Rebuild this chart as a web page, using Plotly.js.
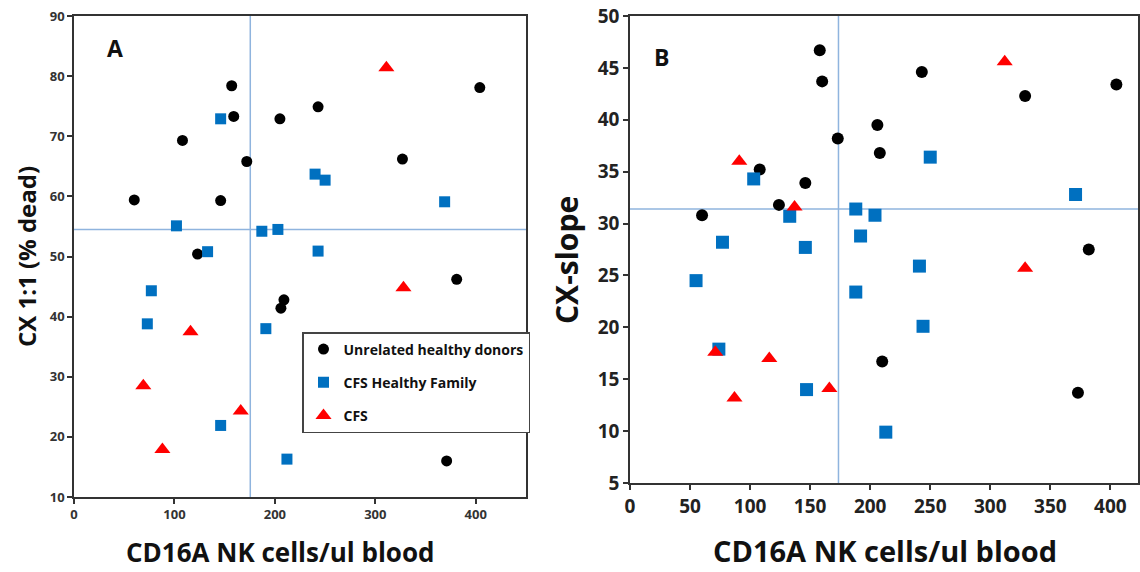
<!DOCTYPE html>
<html>
<head>
<meta charset="utf-8">
<script src="https://cdn.plot.ly/plotly-3.0.1.min.js"></script>
<style>html,body{margin:0;padding:0;background:#fff;}#chart{width:1140px;height:572px;}</style>
</head>
<body>
<div id="chart"></div>
<script>
// ---------- Data ----------
const seriesNames = ["Unrelated healthy donors", "CFS Healthy Family", "CFS"];
const xTitle = "CD16A NK cells/ul blood";
const yTitleA = "CX 1:1 (% dead)";
const yTitleB = "CX-slope";

// Panel A: CX 1:1 (% dead) vs CD16A NK cells/ul blood
const A_donors_x = [157, 159, 205, 108, 172, 60, 146, 123, 404, 243, 327, 209, 206, 381, 371];
const A_donors_y = [78.4, 73.3, 72.9, 69.3, 65.8, 59.4, 59.3, 50.4, 78.1, 74.9, 66.2, 42.8, 41.4, 46.2, 16.0];
const A_family_x = [146, 102, 187, 203, 133, 240, 250, 369, 243, 77, 73, 191, 146, 212];
const A_family_y = [72.9, 55.1, 54.2, 54.5, 50.8, 63.7, 62.7, 59.1, 50.9, 44.3, 38.8, 38.0, 21.9, 16.3];
const A_cfs_x = [311, 328, 116, 69, 166, 88];
const A_cfs_y = [81.4, 44.8, 37.5, 28.5, 24.3, 17.9];
const A_refX = 175.5;
const A_refY = 54.5;

// Panel B: CX-slope vs CD16A NK cells/ul blood
const B_donors_x = [158, 160, 173, 108, 146, 124, 60, 243, 405, 329, 206, 208, 382, 210, 373];
const B_donors_y = [46.7, 43.7, 38.2, 35.2, 33.9, 31.8, 30.8, 44.6, 43.4, 42.3, 39.5, 36.8, 27.5, 16.7, 13.7];
const B_family_x = [103, 133, 77, 146, 188, 192, 55, 250, 371, 204, 241, 188, 74, 147, 244, 213];
const B_family_y = [34.3, 30.7, 28.2, 27.7, 31.4, 28.8, 24.5, 36.4, 32.8, 30.8, 25.9, 23.4, 17.9, 14.0, 20.1, 9.9];
const B_cfs_x = [312, 91, 137, 329, 71, 116, 87, 166];
const B_cfs_y = [45.6, 36.0, 31.6, 25.7, 17.6, 17.0, 13.2, 14.1];
const B_refX = 173.6;
const B_refY = 31.4;

// ---------- Styles ----------
const FONT = '"Open Sans", Lato, sans-serif';
const cBlack = '#000000', cBlue = '#0070C0', cRed = '#FF0000', cRef = '#8FB4DE';

function mk(x, y, name, sym, color, size, xa, ya, showlegend) {
  return {
    type: 'scatter', mode: 'markers', x: x, y: y, name: name,
    xaxis: xa, yaxis: ya, showlegend: showlegend, legendgroup: name,
    marker: {symbol: sym, color: color, size: size, line: {width: 0}},
    hoverinfo: 'x+y+name'
  };
}

const data = [
  mk(A_donors_x, A_donors_y, seriesNames[0], 'circle', cBlack, 11, 'x', 'y', true),
  mk(A_family_x, A_family_y, seriesNames[1], 'square', cBlue, 11, 'x', 'y', true),
  mk(A_cfs_x, A_cfs_y, seriesNames[2], 'triangle-up', cRed, 14, 'x', 'y', true),
  mk(B_donors_x, B_donors_y, seriesNames[0], 'circle', cBlack, 12, 'x2', 'y2', false),
  mk(B_family_x, B_family_y, seriesNames[1], 'square', cBlue, 13, 'x2', 'y2', false),
  mk(B_cfs_x, B_cfs_y, seriesNames[2], 'triangle-up', cRed, 14, 'x2', 'y2', false)
];

const axBase = {
  showgrid: false, zeroline: false, showline: true, mirror: true,
  linecolor: '#333', linewidth: 1.5, ticks: 'outside', ticklen: 5,
  tickcolor: '#333', tickwidth: 1.5
};

const layout = {
  width: 1140, height: 572,
  margin: {l: 0, r: 0, t: 16, b: 75},
  paper_bgcolor: '#fff', plot_bgcolor: '#fff',
  font: {family: FONT, color: '#000'},
  showlegend: true,
  legend: {
    x: 302/1140, y: 165/481, xanchor: 'left', yanchor: 'top',
    bgcolor: '#fff', bordercolor: '#444', borderwidth: 1.5,
    font: {family: FONT, size: 14, weight: 'bold', color: '#111'},
    tracegroupgap: 12, itemclick: false, itemwidth: 30
  },
  xaxis: Object.assign({}, axBase, {
    domain: [74/1140, 526/1140], range: [0, 450], dtick: 100, anchor: 'y',
    tickfont: {family: FONT, size: 13, weight: 'bold', color: '#333'}
  }),
  yaxis: Object.assign({}, axBase, {
    domain: [0, 1], range: [10, 90], dtick: 10, anchor: 'x',
    tickfont: {family: FONT, size: 13, weight: 'bold', color: '#333'},
    title: {text: yTitleA, standoff: 6,
            font: {family: FONT, size: 24, weight: 'bold', color: '#111'}}
  }),
  xaxis2: Object.assign({}, axBase, {
    domain: [630/1140, 1138/1140], range: [0, 423], dtick: 50, anchor: 'y2',
    tickfont: {family: FONT, size: 19, weight: 'bold', color: '#222'}
  }),
  yaxis2: Object.assign({}, axBase, {
    domain: [14/481, 1], range: [5, 50], dtick: 5, anchor: 'x2',
    tickfont: {family: FONT, size: 19, weight: 'bold', color: '#222'}
  }),
  shapes: [
    {type: 'line', xref: 'x', yref: 'y domain', x0: A_refX, x1: A_refX, y0: 0, y1: 1, line: {color: cRef, width: 1.5}, layer: 'below'},
    {type: 'line', xref: 'x domain', yref: 'y', x0: 0, x1: 1, y0: A_refY, y1: A_refY, line: {color: cRef, width: 1.5}, layer: 'below'},
    {type: 'line', xref: 'x2', yref: 'y2 domain', x0: B_refX, x1: B_refX, y0: 0, y1: 1, line: {color: cRef, width: 1.5}, layer: 'below'},
    {type: 'line', xref: 'x2 domain', yref: 'y2', x0: 0, x1: 1, y0: B_refY, y1: B_refY, line: {color: cRef, width: 1.5}, layer: 'below'}
  ],
  annotations: [
    {text: 'A', xref: 'paper', yref: 'paper', x: 115/1140, y: (497-48)/481, showarrow: false,
     xanchor: 'center', yanchor: 'middle', font: {family: FONT, size: 23, weight: 'bold', color: '#111'}},
    {text: 'B', xref: 'paper', yref: 'paper', x: 661/1140, y: (497-57)/481, showarrow: false,
     xanchor: 'center', yanchor: 'middle', font: {family: FONT, size: 23, weight: 'bold', color: '#111'}},
    {text: xTitle, xref: 'paper', yref: 'paper', x: 280/1140, y: (497-552)/481, showarrow: false,
     xanchor: 'center', yanchor: 'middle', font: {family: FONT, size: 26, weight: 'bold', color: '#111'}},
    {text: xTitle, xref: 'paper', yref: 'paper', x: 885/1140, y: (497-550)/481, showarrow: false,
     xanchor: 'center', yanchor: 'middle', font: {family: FONT, size: 29, weight: 'bold', color: '#111'}},
    {text: yTitleB, xref: 'paper', yref: 'paper', x: 566/1140, y: (497-260)/481, showarrow: false,
     textangle: -90, xanchor: 'center', yanchor: 'middle', font: {family: FONT, size: 30, weight: 'bold', color: '#111'}}
  ]
};

Plotly.newPlot('chart', data, layout, {displayModeBar: false, staticPlot: false});
</script>
</body>
</html>
